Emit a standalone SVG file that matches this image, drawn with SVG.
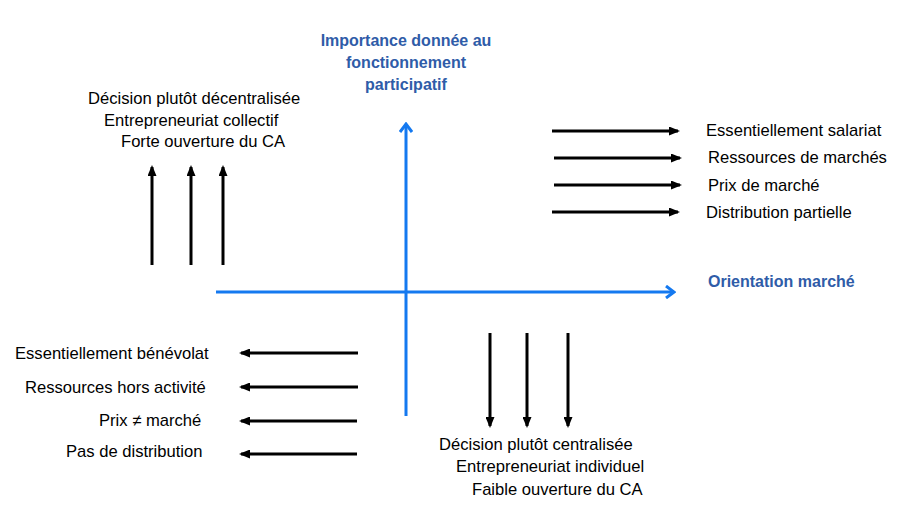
<svg xmlns="http://www.w3.org/2000/svg" width="913" height="529" viewBox="0 0 913 529">
<style>
.t{font-family:"Liberation Sans",Arial,sans-serif;font-size:16.6px;fill:#000}
.b{font-family:"Liberation Sans",Arial,sans-serif;font-size:16px;font-weight:bold;fill:#2F5CA8}
.ax{stroke:#1479F0;stroke-width:3;fill:none}
.ar{stroke:#000;stroke-width:3;fill:none;marker-end:url(#ah)}
</style>
<defs>
<marker id="ah" markerWidth="11" markerHeight="9" refX="9" refY="4.5" orient="auto" markerUnits="userSpaceOnUse">
<path d="M0,0 L11,4.5 L0,9 Z" fill="#000"/>
</marker>
<marker id="av" markerWidth="12" markerHeight="14" refX="10" refY="7" orient="auto" markerUnits="userSpaceOnUse">
<path d="M2,1 L10,7 L2,13" fill="none" stroke="#1479F0" stroke-width="3"/>
</marker>
</defs>
<rect width="913" height="529" fill="#fff"/>
<g id="axes">
<line class="ax" x1="216" y1="292" x2="674" y2="292" marker-end="url(#av)"/>
<line class="ax" x1="406" y1="416" x2="406" y2="124" marker-end="url(#av)"/>
</g>
<g id="axis-labels">
<text class="b" x="406" y="46" text-anchor="middle">Importance donnée au</text>
<text class="b" x="406" y="68" text-anchor="middle">fonctionnement</text>
<text class="b" x="406" y="90" text-anchor="middle">participatif</text>
<text class="b" x="708" y="287">Orientation marché</text>
</g>
<g id="connectors">
<line class="ar" x1="152" y1="265" x2="152" y2="167"/>
<line class="ar" x1="191" y1="265" x2="191" y2="167"/>
<line class="ar" x1="223" y1="265" x2="223" y2="167"/>
<line class="ar" x1="552" y1="131" x2="678" y2="131"/>
<line class="ar" x1="554" y1="158" x2="680" y2="158"/>
<line class="ar" x1="554" y1="185" x2="680" y2="185"/>
<line class="ar" x1="552" y1="212" x2="678" y2="212"/>
<line class="ar" x1="358" y1="353" x2="241" y2="353"/>
<line class="ar" x1="358" y1="387" x2="241" y2="387"/>
<line class="ar" x1="357" y1="421" x2="241" y2="421"/>
<line class="ar" x1="357" y1="454" x2="241" y2="454"/>
<line class="ar" x1="490" y1="333" x2="490" y2="426"/>
<line class="ar" x1="527" y1="333" x2="527" y2="426"/>
<line class="ar" x1="568" y1="333" x2="568" y2="426"/>
</g>
<g id="top-left">
<text class="t" x="88" y="104">Décision plutôt décentralisée</text>
<text class="t" x="104" y="126">Entrepreneuriat collectif</text>
<text class="t" x="121" y="147">Forte ouverture du CA</text>
</g>
<g id="top-right">
<text class="t" x="706" y="136">Essentiellement salariat</text>
<text class="t" x="708" y="163">Ressources de marchés</text>
<text class="t" x="708" y="191">Prix de marché</text>
<text class="t" x="706" y="218">Distribution partielle</text>
</g>
<g id="bottom-left">
<text class="t" x="15" y="359">Essentiellement bénévolat</text>
<text class="t" x="25" y="393">Ressources hors activité</text>
<text class="t" x="99" y="426">Prix ≠ marché</text>
<text class="t" x="66" y="457">Pas de distribution</text>
</g>
<g id="bottom-right">
<text class="t" x="439" y="450">Décision plutôt centralisée</text>
<text class="t" x="456" y="472">Entrepreneuriat individuel</text>
<text class="t" x="472" y="495">Faible ouverture du CA</text>
</g>
</svg>
